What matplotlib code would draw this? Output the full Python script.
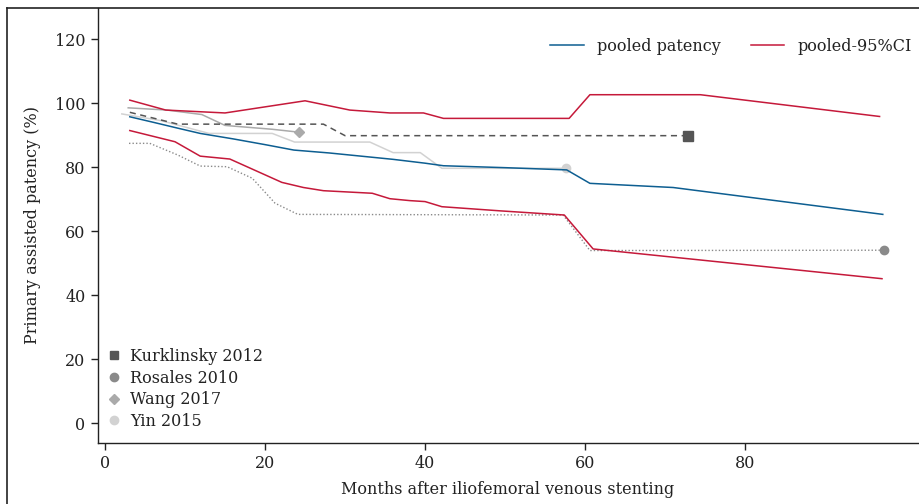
import matplotlib
matplotlib.use("Agg")
import matplotlib.pyplot as plt
from matplotlib.lines import Line2D

plt.rcParams['font.family'] = ['DejaVu Serif']

# Pooled estimate and 95% CI
pooled_x = [3.1, 6, 9, 11.9, 16, 20, 23.6, 28, 32, 36, 40, 42.3, 50, 57.7, 60.6, 71, 97.2]
pooled_y = [95.7, 94.0, 92.2, 90.5, 88.8, 87.0, 85.3, 84.4, 83.4, 82.4, 81.2, 80.4, 79.8, 79.1, 74.9, 73.6, 65.2]

ci_up_x = [3.1, 7.6, 15, 25, 30.6, 35.6, 39.8, 42.3, 58, 60.6, 74.4, 96.8]
ci_up_y = [100.9, 97.8, 96.9, 100.7, 97.8, 96.9, 96.9, 95.2, 95.2, 102.6, 102.6, 95.8]

ci_lo_x = [3.1, 8.75, 11.9, 15.6, 22.1, 24.8, 27.3, 33.4, 35.6, 38.1, 40, 42.1, 49.4, 57.4, 61, 97.1]
ci_lo_y = [91.4, 87.9, 83.4, 82.5, 75.2, 73.6, 72.6, 71.8, 70.1, 69.5, 69.2, 67.6, 66.3, 65.0, 54.4, 45.1]

# Individual studies
kurk_x = [3.1, 9.1, 27.3, 30.0, 72.9]
kurk_y = [97.1, 93.4, 93.4, 89.8, 89.8]

ros_x = [3.0, 5.6, 9.1, 11.9, 15.25, 18.4, 21.25, 24.1, 57.25, 60.6, 97.4]
ros_y = [87.4, 87.4, 83.75, 80.3, 80.1, 76.5, 68.7, 65.2, 65.0, 53.9, 54.0]

wang_x = [2.9, 7.75, 12.1, 15.0, 20.9, 24.2]
wang_y = [98.5, 97.8, 96.4, 93.0, 91.8, 90.9]

yin_x = [2.1, 7.0, 13.0, 20.9, 23.7, 33.1, 36.0, 39.4, 42.1, 57.6]
yin_y = [96.6, 94.5, 90.5, 90.5, 87.8, 87.8, 84.5, 84.5, 79.6, 79.6]

studies = ["Kurklinsky 2012", "Rosales 2010", "Wang 2017", "Yin 2015"]

BLUE = '#0d5e91'
RED = '#c5193a'
C_K, C_R, C_W, C_Y = '#555555', '#8a8a8a', '#aaaaaa', '#d2d2d2'

W, H = 920, 504
fig = plt.figure(figsize=(9.2, 5.04), dpi=100)
ax = fig.add_axes([98/W, 61/H, 820/W, 435/H])

lw = 1.1
ax.plot(yin_x, yin_y, color=C_Y, lw=lw)
ax.plot(yin_x[-1], yin_y[-1], 'o', color=C_Y, ms=6)
ax.plot(wang_x, wang_y, color=C_W, lw=lw)
ax.plot(wang_x[-1], wang_y[-1], 'D', color=C_W, ms=5.5)
ax.plot(ros_x, ros_y, color=C_R, lw=1.0, ls=(0, (1, 1.5)))
ax.plot(ros_x[-1], ros_y[-1], 'o', color=C_R, ms=6)
ax.plot(kurk_x, kurk_y, color=C_K, lw=lw, ls=(0, (4, 3)))
ax.plot(kurk_x[-1], kurk_y[-1], 's', color=C_K, ms=7)

ax.plot(pooled_x, pooled_y, color=BLUE, lw=lw)
ax.plot(ci_up_x, ci_up_y, color=RED, lw=lw)
ax.plot(ci_lo_x, ci_lo_y, color=RED, lw=lw)

ax.set_xlim(-0.875, 101.6)
ax.set_ylim(-6.25, 129.7)
ax.set_xticks([0, 20, 40, 60, 80])
ax.set_yticks([0, 20, 40, 60, 80, 100, 120])
for s in ['top', 'right']:
    ax.spines[s].set_visible(False)
for s in ['left', 'bottom']:
    ax.spines[s].set_color('#222222')
    ax.spines[s].set_linewidth(1.0)
ax.tick_params(axis='both', length=5, width=1.0, color='#222222', labelsize=11.5,
               labelcolor='#222222', pad=4)
ax.set_xlabel('Months after iliofemoral venous stenting', fontsize=11.5, color='#222222', labelpad=6)
ax.set_ylabel('Primary assisted patency (%)', fontsize=11.5, color='#222222', labelpad=10)

h1 = [Line2D([], [], color=BLUE, lw=lw), Line2D([], [], color=RED, lw=lw)]
leg1 = ax.legend(h1, ['pooled patency', 'pooled-95%CI'], loc='upper right', ncol=2,
                 frameon=False, fontsize=11.5, handlelength=2.1, handletextpad=0.8,
                 columnspacing=1.9, bbox_to_anchor=(1.0, 0.946), borderaxespad=0.0,
                 labelcolor='#222222')
ax.add_artist(leg1)

h2 = [Line2D([], [], ls='none', marker='s', color=C_K, ms=6),
      Line2D([], [], ls='none', marker='o', color=C_R, ms=6),
      Line2D([], [], ls='none', marker='D', color=C_W, ms=5),
      Line2D([], [], ls='none', marker='o', color=C_Y, ms=6)]
ax.legend(h2, studies, loc='lower left', frameon=False, fontsize=11.5,
          handlelength=0.8, handletextpad=0.6, labelspacing=0.3,
          bbox_to_anchor=(0.0045, 0.015), borderaxespad=0.0, labelcolor='#222222')

# outer frame (left and top edges visible in the crop)
fig.add_artist(Line2D([7.5/W, 7.5/W], [0, 1 - 8/H], transform=fig.transFigure,
                      color='#222222', lw=1.2))
fig.add_artist(Line2D([7.5/W, 1], [1 - 8/H, 1 - 8/H], transform=fig.transFigure,
                      color='#222222', lw=1.2))

fig.savefig('out.png', dpi=100)
